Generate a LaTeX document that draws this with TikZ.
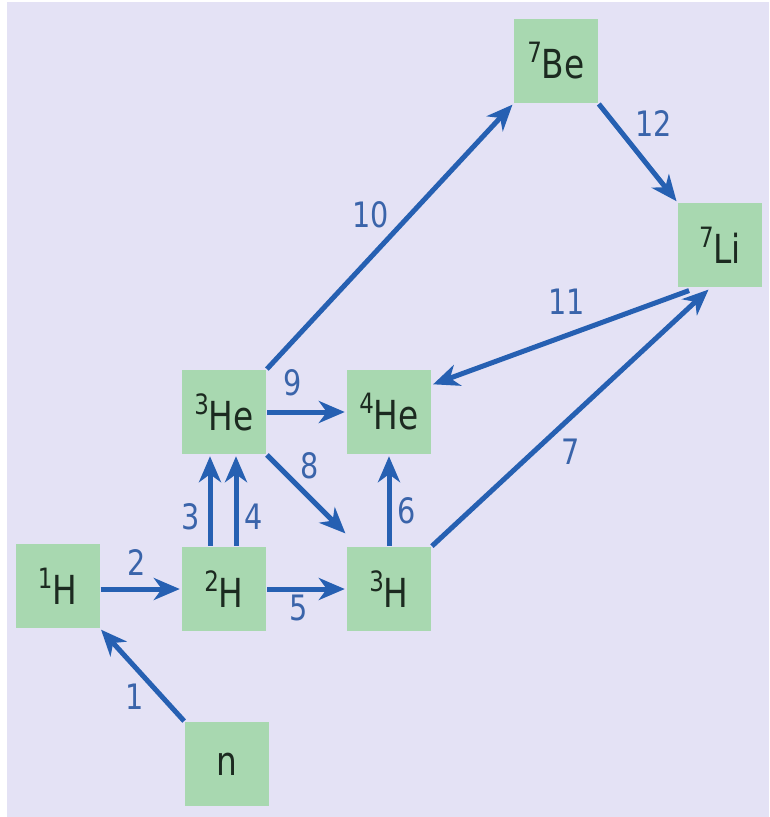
\documentclass[tikz,border=0pt]{standalone}
\usepackage{fontspec}
\setmainfont[FakeStretch=0.82]{DejaVu Sans}
\usetikzlibrary{arrows.meta}
\definecolor{bgcol}{RGB}{228,226,245}
\definecolor{boxcol}{RGB}{168,216,176}
\definecolor{arrcol}{RGB}{38,96,178}
\definecolor{labcol}{RGB}{58,100,170}
\definecolor{txtcol}{RGB}{28,42,32}
\newcommand\nuc[2]{\raisebox{16pt}{\fontsize{28}{28}\selectfont #1}#2}
\tikzset{
  nucbox/.style={fill=boxcol, minimum width=84pt, minimum height=84pt, inner sep=0pt,
    text=txtcol, font=\fontsize{40}{40}\selectfont},
  rx/.style={draw=arrcol, line width=5pt, -{Stealth[length=26pt,width=22pt,inset=8pt]},
    shorten >=2pt, shorten <=1pt},
  lab/.style={text=labcol, font=\fontsize{35}{35}\selectfont, inner sep=0pt}
}
\begin{document}
\begin{tikzpicture}[x=1pt,y=-1pt]
\useasboundingbox (0,0) rectangle (769,817);
\fill[bgcol] (7,2) rectangle (769,817);
% nodes
\node[nucbox] (H1)  at (57.5,586) {\nuc{1}{H}};
\node[nucbox] (H2)  at (224,589) {\nuc{2}{H}};
\node[nucbox] (H3)  at (389,589) {\nuc{3}{H}};
\node[nucbox] (He3) at (224,412) {\nuc{3}{He}};
\node[nucbox] (He4) at (389,412) {\nuc{4}{He}};
\node[nucbox] (n)   at (227,764) {n};
\node[nucbox] (Be7) at (556,61)  {\nuc{7}{Be}};
\node[nucbox] (Li7) at (720,245) {\nuc{7}{Li}};
% arrows
\draw[rx] (n.north west) -- (H1.south east);
\draw[rx] (H1.east |- H2.west) -- (H2.west);
\draw[rx] ([xshift=-14pt]H2.north) -- ([xshift=-14pt]He3.south);
\draw[rx] ([xshift=12pt]H2.north) -- ([xshift=12pt]He3.south);
\draw[rx] (H2.east) -- (H3.west);
\draw[rx] (H3.north) -- (He4.south);
\draw[rx] (H3.north east) -- ([xshift=-10pt,yshift=-1pt]Li7.south);
\draw[rx] (He3.south east) -- ([yshift=12pt]H3.north west);
\draw[rx] (He3.east) -- (He4.west);
\draw[rx] (He3.north east) -- (Be7.south west);
\draw[rx] ([xshift=-30pt,yshift=-3pt]Li7.south) -- ([yshift=27pt]He4.east);
\draw[rx] (Be7.south east) -- (Li7.north west);
% labels
\node[lab] (l1)  at (135,697) {1};
\node[lab] (l2)  at (137,563) {2};
\node[lab] (l3)  at (191,517) {3};
\node[lab] (l4)  at (254,517) {4};
\node[lab] (l5)  at (299,608) {5};
\node[lab] (l6)  at (407,511) {6};
\node[lab] (l7)  at (571,452) {7};
\node[lab] (l8)  at (310,466) {8};
\node[lab] (l9)  at (293,383) {9};
\node[lab] (l10) at (371,215) {10};
\node[lab] (l11) at (567,302) {11};
\node[lab] (l12) at (654,124) {12};
\end{tikzpicture}
\end{document}
